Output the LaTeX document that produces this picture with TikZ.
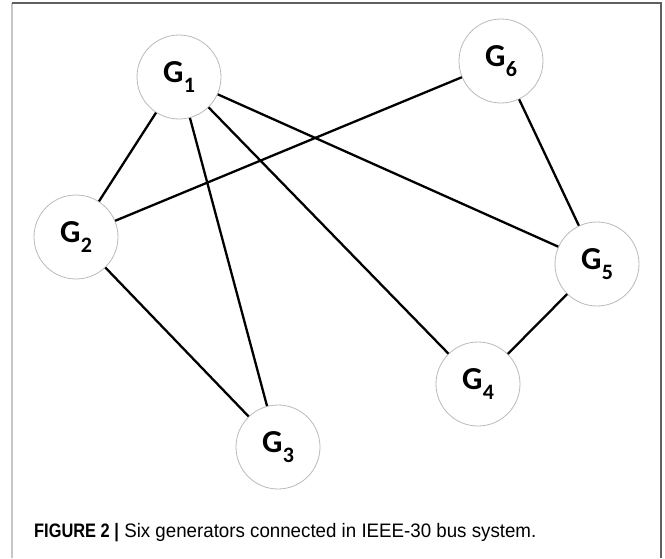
\documentclass[tikz,border=0pt]{standalone}
\usepackage{fontspec}
\setmainfont{Liberation Sans}
\newfontfamily\genfont{Carlito}
\usepackage{xcolor}
\usetikzlibrary{positioning}

\newcommand{\gen}[1]{G\kern0.3pt\raisebox{-0.3em}{\fontsize{22}{22}\selectfont #1}}

\begin{document}
\begin{tikzpicture}[x=1pt, y=-1pt,
    gennode/.style={circle, draw=gray!55, line width=0.8pt, minimum size=84pt, inner sep=0pt,
        font=\genfont\bfseries\fontsize{32}{32}\selectfont},
    tie/.style={line width=2.3pt, black}]
    \useasboundingbox (0,0) rectangle (665,558);

    % frame
    \draw[gray!45, line width=1.6pt] (12,558) -- (12,3);
    \draw[gray!75!black, line width=1.4pt] (12,3) -- (661,3) -- (661,558);

    % generators
    \node[gennode] (g1) at (179,77) {\gen{1}};
    \node[gennode] (g2) at (76,237) {\gen{2}};
    \node[gennode] (g3) at (278,447) {\gen{3}};
    \node[gennode] (g4) at (478,384) {\gen{4}};
    \node[gennode] (g5) at (597,264) {\gen{5}};
    \node[gennode] (g6) at (501,61) {\gen{6}};

    % lines
    \draw[tie] (g1) -- (g2);
    \draw[tie] (g1) -- (g3);
    \draw[tie] (g1) -- (g4);
    \draw[tie] (g1) -- (g5);
    \draw[tie] (g6) -- (g2);
    \draw[tie] (g6) -- (g5);
    \draw[tie] (g5) -- (g4);
    \draw[tie] (g2) -- (g3);

    \node[anchor=base west, inner sep=0pt, font=\fontsize{19.5}{19.5}\selectfont] (caption) at (34,537)
        {\scalebox{0.84}[1]{\bfseries FIGURE 2 |}\ \scalebox{0.96}[1]{Six generators connected in IEEE-30 bus system.}};
\end{tikzpicture}
\end{document}
